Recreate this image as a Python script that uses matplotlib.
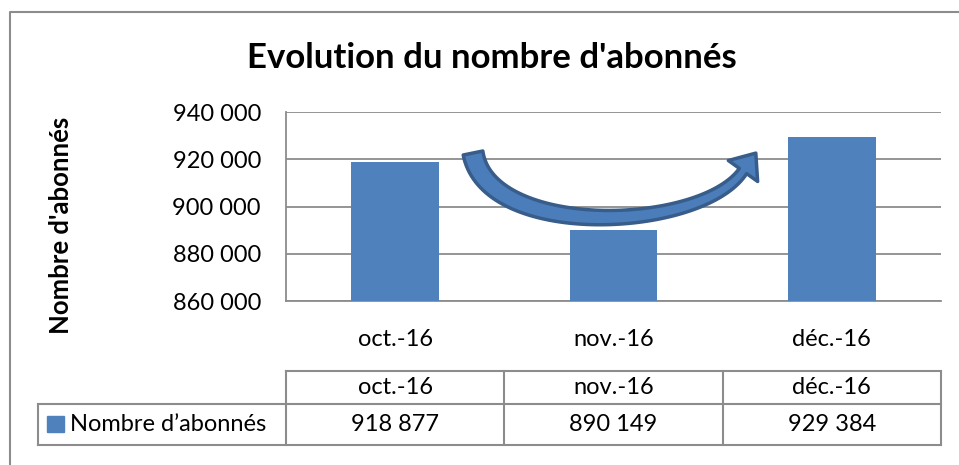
import numpy as np
import matplotlib
matplotlib.use("Agg")
import matplotlib.pyplot as plt
from matplotlib.patches import Polygon, Rectangle

# Data
months = ["oct.-16", "nov.-16", "déc.-16"]
subscribers = [918877, 890149, 929384]
y_ticks = [860000, 880000, 900000, 920000, 940000]
series_name = "Nombre d\u2019abonnés"
title = "Evolution du nombre d'abonnés"
y_label = "Nombre d'abonnés"

bar_color = "#4F81BD"
grid_color = "#8C8C8C"
W, H = 959, 465

plt.rcParams["font.family"] = ["Lato", "DejaVu Sans"]


def fmt(v):
    return f"{v:,}".replace(",", " ")


fig = plt.figure(figsize=(W / 100, H / 100), dpi=100)

# plot area (pixel box -> figure fraction)
px_l, px_r, px_t, px_b = 286, 941, 112, 301
ax = fig.add_axes([px_l / W, 1 - px_b / H, (px_r - px_l) / W, (px_b - px_t) / H])
x = np.arange(len(months))
ax.bar(x, subscribers, width=0.4, color=bar_color, zorder=3)
ax.set_xlim(-0.5, len(months) - 0.5)
ax.set_ylim(y_ticks[0], y_ticks[-1])
ax.set_yticks(y_ticks)
ax.set_yticklabels([fmt(v) for v in y_ticks], fontsize=17)
ax.set_xticks(x)
ax.set_xticklabels(months, fontsize=17)
ax.tick_params(axis="y", length=0, pad=18)
ax.tick_params(axis="x", length=0, pad=20)
ax.grid(axis="y", color=grid_color, lw=1.3, zorder=0)
for s in ["top", "right"]:
    ax.spines[s].set_visible(False)
for s in ["left", "bottom"]:
    ax.spines[s].set_color(grid_color)
    ax.spines[s].set_linewidth(1.3)

# overlay in pixel coordinates for frame, title, table and arrow
ov = fig.add_axes([0, 0, 1, 1], facecolor="none")
ov.set_xlim(0, W)
ov.set_ylim(H, 0)
ov.axis("off")

# outer chart frame
ov.plot([10, 10, W], [H, 12, 12], color=grid_color, lw=1.5)

ov.text(492, 58, title, ha="center", va="center", fontsize=25, fontweight="bold")
ov.text(61, 225, y_label, ha="center", va="center", rotation=90,
        fontsize=18.5, fontweight="bold")

# data table
cols = np.linspace(px_l, px_r, len(months) + 1)
r_top, r_mid, r_bot = 371, 404, 445
tl = dict(color=grid_color, lw=1.5)
ov.plot([cols[0], cols[-1]], [r_top, r_top], **tl)
ov.plot([38, cols[-1]], [r_mid, r_mid], **tl)
ov.plot([38, cols[-1]], [r_bot, r_bot], **tl)
ov.plot([38, 38], [r_mid, r_bot], **tl)
for c in cols:
    ov.plot([c, c], [r_top, r_bot], **tl)
for i, (m, v) in enumerate(zip(months, subscribers)):
    cx = (cols[i] + cols[i + 1]) / 2
    ov.text(cx, (r_top + r_mid) / 2, m, ha="center", va="center", fontsize=17)
    ov.text(cx, (r_mid + r_bot) / 2, fmt(v), ha="center", va="center", fontsize=17)
ov.add_patch(Rectangle((47, 416), 17, 16, color=bar_color))
ov.text(70, (r_mid + r_bot) / 2, series_name, ha="left", va="center", fontsize=17)

# curved block arrow
t = np.linspace(0, 1, 80)
p0, p1, p2, p3 = map(np.array, [(473, 153), (488, 240), (702, 232), (743, 171)])
pts = ((1 - t) ** 3)[:, None] * p0 + (3 * (1 - t) ** 2 * t)[:, None] * p1 \
    + (3 * (1 - t) * t ** 2)[:, None] * p2 + (t ** 3)[:, None] * p3
d = np.gradient(pts, axis=0)
nrm = np.stack([-d[:, 1], d[:, 0]], axis=1)
nrm /= np.linalg.norm(nrm, axis=1)[:, None]
hw = 10 - 5.5 * t
inner = pts + nrm * hw[:, None]
outer = pts - nrm * hw[:, None]
tang = d[-1] / np.linalg.norm(d[-1])
n_end = nrm[-1]
tip = p3 + tang * 22
body = np.vstack([outer, [p3 - n_end * 18], [tip], [p3 + n_end * 18], inner[::-1]])
ov.add_patch(Polygon(body, closed=True, facecolor="#4A7DBA", edgecolor="#385D8A",
                     lw=2.5, joinstyle="round", zorder=5))

fig.savefig("out.png", dpi=100)
